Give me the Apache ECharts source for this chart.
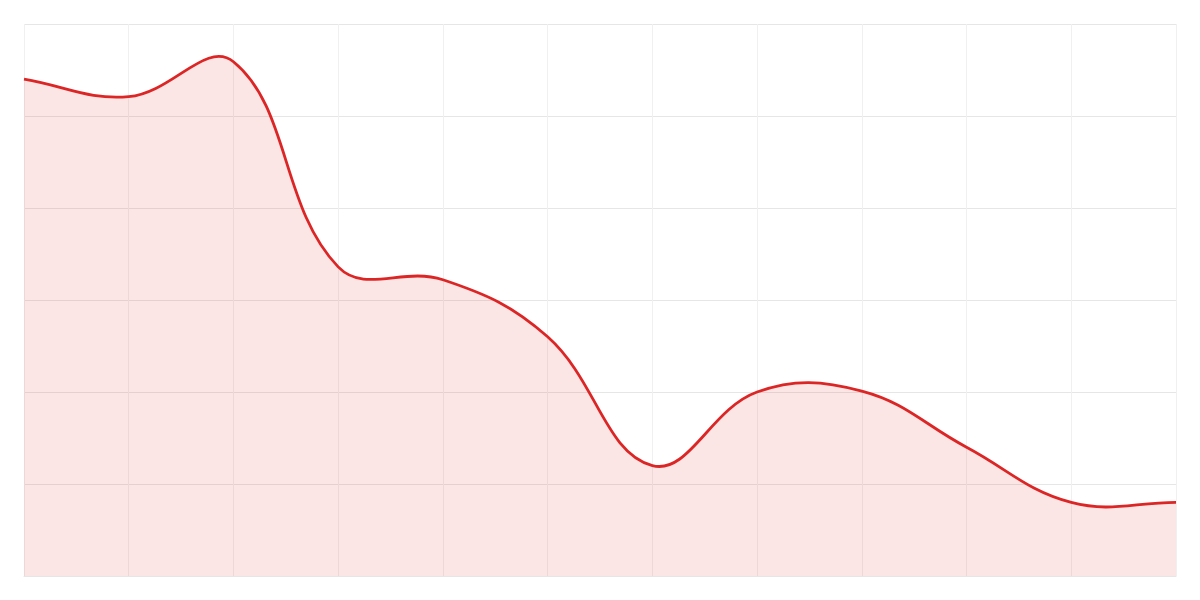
<!DOCTYPE html>
<html>
<head>
<meta charset="utf-8">
<script src="https://cdn.jsdelivr.net/npm/echarts@6/dist/echarts.min.js"></script>
<style>
  html, body { margin: 0; padding: 0; background: #fff; }
  #chart { width: 1200px; height: 600px; }
</style>
</head>
<body>
<div id="chart"></div>
<script>
// categorias del eje x (sin etiquetas visibles)
var categorias = ['1', '2', '3', '4', '5', '6', '7', '8', '9', '10', '11', '12'];
// valores
var valores = [54.0, 52.1, 55.9, 33.6, 32.2, 26.0, 12.0, 20.0, 20.1, 14.0, 8.0, 8.0];

var tension = 0.4;

// puntos de control estilo spline (sin recortar extremos)
function controlPoints(pts) {
    var cps = [];
    for (var i = 0; i < pts.length; i++) {
        var p0 = pts[i - 1] || pts[i];
        var p1 = pts[i];
        var p2 = pts[i + 1] || pts[i];
        var d01 = Math.hypot(p1[0] - p0[0], p1[1] - p0[1]);
        var d12 = Math.hypot(p2[0] - p1[0], p2[1] - p1[1]);
        var s01 = (d01 + d12) ? d01 / (d01 + d12) : 0;
        var s12 = (d01 + d12) ? d12 / (d01 + d12) : 0;
        var fa = tension * s01, fb = tension * s12;
        cps.push({
            prev: [p1[0] - fa * (p2[0] - p0[0]), p1[1] - fa * (p2[1] - p0[1])],
            next: [p1[0] + fb * (p2[0] - p0[0]), p1[1] + fb * (p2[1] - p0[1])]
        });
    }
    return cps;
}

function curvaPath(pts, cps) {
    var d = 'M' + pts[0][0] + ' ' + pts[0][1];
    for (var i = 1; i < pts.length; i++) {
        d += ' C' + cps[i - 1].next[0] + ' ' + cps[i - 1].next[1] + ' ' +
            cps[i].prev[0] + ' ' + cps[i].prev[1] + ' ' + pts[i][0] + ' ' + pts[i][1];
    }
    return d;
}

var grafica = echarts.init(document.getElementById('chart'));

grafica.setOption({
    animation: false,
    grid: { left: 24, right: 24, top: 24, bottom: 24 },
    xAxis: {
        type: 'category',
        data: categorias,
        boundaryGap: false,
        axisLine: { show: true, lineStyle: { color: '#e6e6e6' } },
        axisTick: { show: false },
        axisLabel: { show: false },
        splitLine: { show: true, lineStyle: { color: '#f0f0f0', width: 1 } }
    },
    yAxis: {
        type: 'value',
        min: 0,
        max: 60,
        interval: 10,
        axisLine: { show: false },
        axisTick: { show: false },
        axisLabel: { show: false },
        splitLine: { show: true, lineStyle: { color: '#e6e6e6', width: 1 } }
    },
    series: [{
        type: 'custom',
        data: valores.map(function (v, i) { return [i, v]; }),
        encode: { x: 0, y: 1 },
        renderItem: function (params, api) {
            if (params.dataIndex !== 0) return;
            var pts = valores.map(function (v, i) { return api.coord([i, v]); });
            var base = api.coord([0, 0])[1];
            var cps = controlPoints(pts);
            var linea = curvaPath(pts, cps);
            var area = linea + ' L' + pts[pts.length - 1][0] + ' ' + base +
                ' L' + pts[0][0] + ' ' + base + ' Z';
            return {
                type: 'group',
                children: [{
                    type: 'path',
                    shape: { pathData: area },
                    style: { fill: 'rgba(220, 38, 38, 0.12)', stroke: null }
                }, {
                    type: 'path',
                    shape: { pathData: linea },
                    style: { fill: null, stroke: '#dc2626', lineWidth: 2.8 }
                }]
            };
        }
    }]
});
</script>
</body>
</html>
